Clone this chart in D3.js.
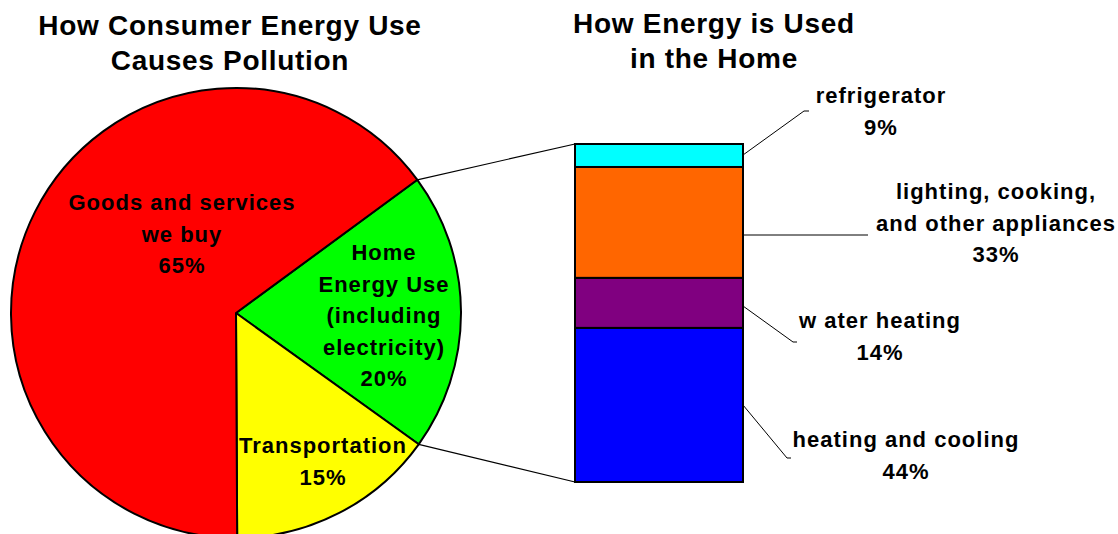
<!DOCTYPE html>
<html>
<head>
<meta charset="utf-8">
<script src="https://cdn.jsdelivr.net/npm/d3@7"></script>
<style>
  html, body { margin: 0; padding: 0; background: #fff; }
  svg { display: block; }
  text { font-family: "Liberation Sans", Arial, sans-serif; font-weight: bold; fill: #000; }
</style>
</head>
<body>
<svg id="chart" width="1118" height="534"></svg>
<script>
// ---- Data ----
const pieCategories = ["Home Energy Use (including electricity)", "Transportation", "Goods and services we buy"];
const pieValues = [20, 15, 65];
const pieColors = ["#00ff00", "#ffff00", "#ff0000"];
const pieLabelLines = [
  ["Home", "Energy Use", "(including", "electricity)", "20%"],
  ["Transportation", "15%"],
  ["Goods and services", "we buy", "65%"]
];

const homeCategories = ["heating and cooling", "water heating", "lighting, cooking, and other appliances", "refrigerator"];
const homeLabelPercents = [44, 14, 33, 9];
const homeBarShares = [45.6, 14.8, 32.8, 6.8]; // bar heights as drawn in picture
const homeColors = ["#0000ff", "#800080", "#ff6600", "#00ffff"];
const homeLabelLines = [
  ["heating and cooling", "44%"],
  ["w ater heating", "14%"],
  ["lighting, cooking,", "and other appliances", "33%"],
  ["refrigerator", "9%"]
];

const leftTitle = ["How Consumer Energy Use", "Causes Pollution"];
const rightTitle = ["How Energy is Used", "in the Home"];

// ---- Layout ----
const svg = d3.select("#chart");
const cx = 236, cy = 313, R = 225;
const deg = Math.PI / 180;
const labelSize = "22px", labelSpacing = "1px";

// Titles
function drawTitle(lines, x, y0) {
  lines.forEach((t, i) => {
    svg.append("text").attr("x", x).attr("y", y0 + i * 35)
      .attr("text-anchor", "middle").style("font-size", "28px")
      .style("letter-spacing", "0.7px").text(t);
  });
}
drawTitle(leftTitle, 230, 35);
drawTitle(rightTitle, 714, 33);

// Pie
const pie = d3.pie().sort(null).value(d => d)
  .startAngle(53.7 * deg).endAngle(53.7 * deg + 2 * Math.PI);
const arcs = pie(pieValues);
const arc = d3.arc().innerRadius(0).outerRadius(R);
const g = svg.append("g").attr("transform", `translate(${cx},${cy})`);
g.selectAll("path").data(arcs).join("path")
  .attr("d", arc)
  .attr("fill", (d, i) => pieColors[i])
  .attr("stroke", "#000").attr("stroke-width", 2).attr("stroke-linejoin", "round");

// Pie labels
const pieLabelPos = [[384, 260], [323, 453], [182, 210]];
pieLabelLines.forEach((lines, i) => {
  lines.forEach((t, j) => {
    svg.append("text").attr("x", pieLabelPos[i][0]).attr("y", pieLabelPos[i][1] + j * 31.5)
      .attr("text-anchor", "middle").style("font-size", labelSize)
      .style("letter-spacing", labelSpacing).text(t);
  });
});

// Stacked bar
const barX0 = 575, barX1 = 743;
const y = d3.scaleLinear().domain([0, d3.sum(homeBarShares)]).range([482, 144]);
let acc = 0;
const segs = homeBarShares.map((v, i) => {
  const s = { i, y0: acc, y1: acc + v };
  acc += v;
  return s;
});
svg.append("g").selectAll("rect").data(segs).join("rect")
  .attr("x", barX0).attr("width", barX1 - barX0)
  .attr("y", d => y(d.y1)).attr("height", d => y(d.y0) - y(d.y1))
  .attr("fill", d => homeColors[d.i])
  .attr("stroke", "#000").attr("stroke-width", 2);

// Connector lines from pie slice (Home) to bar
const home = arcs[0];
function arcPt(a) { return [cx + R * Math.sin(a), cy - R * Math.cos(a)]; }
const pTop = arcPt(home.startAngle), pBot = arcPt(home.endAngle);
svg.append("line").attr("x1", pTop[0]).attr("y1", pTop[1]).attr("x2", barX0).attr("y2", y(d3.sum(homeBarShares)))
  .attr("stroke", "#000").attr("stroke-width", 1.2);
svg.append("line").attr("x1", pBot[0]).attr("y1", pBot[1]).attr("x2", barX0).attr("y2", y(0))
  .attr("stroke", "#000").attr("stroke-width", 1.2);

// Leader lines and labels for bar segments
const leaders = [
  { sy: 405, pts: [[787, 458], [791, 458]] },
  { sy: 306, pts: [[793, 342], [797, 342]] },
  { sy: 235, pts: [[868, 235]] },
  { sy: 155, pts: [[804, 111], [809, 111]] }
];
const homeLabelPos = [[906, 447], [880, 328], [996, 199], [881, 103]];
leaders.forEach((L, i) => {
  const pts = [[barX1, L.sy]].concat(L.pts);
  svg.append("path").attr("d", d3.line()(pts))
    .attr("fill", "none").attr("stroke", "#000").attr("stroke-width", 1);
  homeLabelLines[i].forEach((t, j) => {
    svg.append("text").attr("x", homeLabelPos[i][0]).attr("y", homeLabelPos[i][1] + j * 31.5)
      .attr("text-anchor", "middle").style("font-size", labelSize)
      .style("letter-spacing", labelSpacing).text(t);
  });
});
</script>
</body>
</html>
